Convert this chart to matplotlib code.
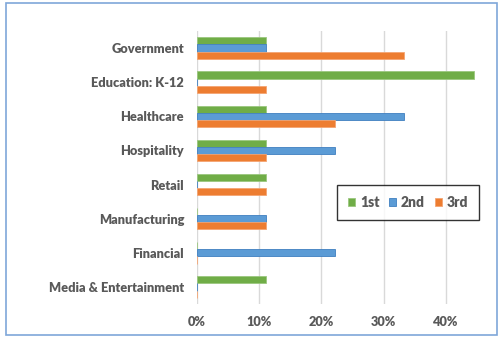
import numpy as np
import matplotlib.pyplot as plt
from matplotlib.patches import Rectangle
from matplotlib.ticker import PercentFormatter

plt.rcParams['font.family'] = ['Lato', 'DejaVu Sans']

# data (top to bottom as shown)
categories = ['Government', 'Education: K-12', 'Healthcare', 'Hospitality',
              'Retail', 'Manufacturing', 'Financial', 'Media & Entertainment']
first = [1/9, 4/9, 1/9, 1/9, 1/9, 0, 0, 1/9]
second = [1/9, 0, 3/9, 2/9, 0, 1/9, 2/9, 0]
third = [3/9, 1/9, 2/9, 1/9, 1/9, 1/9, 0, 0]

series = [('1st', first, '#70AD47', '#9BC77F'),
          ('2nd', second, '#5B9BD5', '#3F7FC0'),
          ('3rd', third, '#ED7D31', '#F4A573')]

fig = plt.figure(figsize=(5, 3.41), dpi=100)
ax = fig.add_axes([196.7/500, 1 - 304/341, (477 - 196.7)/500, (304 - 31)/341])

y = np.arange(len(categories))
h = 0.21
for i, (name, vals, col, edge) in enumerate(series):
    ax.barh(y + (i - 1) * h, vals, height=h, color=col, edgecolor=edge,
            linewidth=0.6, label=name, zorder=3)

ax.set_yticks(y)
ax.set_yticklabels(categories)
ax.set_ylim(len(categories) - 0.5, -0.5)
ax.set_xlim(0, 0.45)
ax.set_xticks([0, 0.1, 0.2, 0.3, 0.4])
ax.xaxis.set_major_formatter(PercentFormatter(1.0, decimals=0))
ax.grid(axis='x', color='#D9D9D9', linewidth=1, zorder=0)
for s in ax.spines.values():
    s.set_visible(False)
ax.tick_params(length=0, colors='#595959', labelsize=9.2)
ax.tick_params(axis='y', pad=9)
ax.tick_params(axis='x', pad=9)
for t in ax.get_xticklabels() + ax.get_yticklabels():
    t.set_fontweight('heavy')

leg = ax.legend(loc='upper left', bbox_to_anchor=((337 - 196.7)/(477 - 196.7), (304 - 185)/273),
                borderaxespad=0, ncol=3, frameon=True, fancybox=False, edgecolor='black',
                handlelength=0.5, handleheight=0.5, handletextpad=0.35,
                columnspacing=0.7, borderpad=0.8, fontsize=10)
leg.get_frame().set_linewidth(1)
for t in leg.get_texts():
    t.set_color('#595959')
    t.set_fontweight('heavy')

# outer chart border
fig.patches.append(Rectangle((6/500, 1 - 335/341), 491/500, 332/341,
                             transform=fig.transFigure, fill=False,
                             edgecolor='#7FA7D9', linewidth=1.2))

plt.savefig('out.png', dpi=100)
